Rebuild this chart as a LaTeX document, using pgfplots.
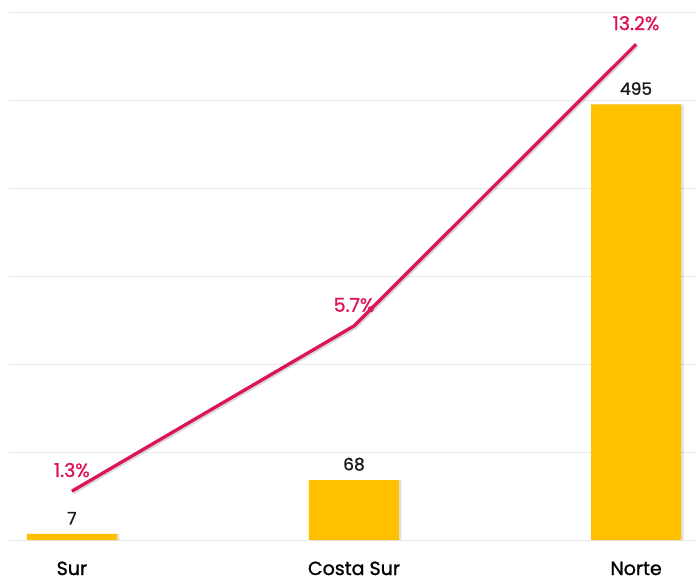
\documentclass[border=0pt]{standalone}
\usepackage{pgfplots}
\pgfplotsset{compat=1.18}
\usepackage{fontspec}
\setmainfont{Poppins}[FakeBold=1.2]
\definecolor{baryel}{RGB}{255,192,0}
\definecolor{linered}{RGB}{220,20,90}
\definecolor{gridc}{RGB}{232,232,236}
\begin{document}
\begin{tikzpicture}
\begin{axis}[
  at={(0,0)}, anchor=south west,
  scale only axis, width=688pt, height=528pt,
  xmin=-0.223, xmax=2.216, ymin=0, ymax=600,
  axis line style={draw=none},
  ymajorgrids, ytick={0,100,...,600}, yticklabels={},
  grid style={gridc, line width=1pt},
  major tick length=0pt,
  xtick={0,1,2}, xticklabels={Sur,Costa Sur,Norte},
  xticklabel style={anchor=base, inner sep=0pt, yshift=-35pt, font=\fontsize{19}{22}\selectfont, text=black},
  /pgf/number format/assume math mode=true,
]
\addplot[ybar, bar width=90pt, fill=black, opacity=0.12, draw=none, xshift=2.5pt, forget plot]
  coordinates {(0,7) (1,68) (2,495)};
\addplot[ybar, bar width=90pt, fill=baryel, draw=none,
  nodes near coords, every node near coord/.append style={font=\fontsize{17}{20}\selectfont, text=black!90, yshift=6pt}]
  coordinates {(0,7) (1,68) (2,495)};
\end{axis}
\begin{axis}[
  at={(0,0)}, anchor=south west,
  scale only axis, width=688pt, height=528pt,
  xmin=-0.223, xmax=2.216, ymin=0, ymax=14.06,
  axis lines=none,
  /pgf/number format/assume math mode=true,
]
\addplot[black, opacity=0.15, line width=3.3pt, xshift=1.5pt, yshift=-1.5pt, forget plot]
  coordinates {(0,1.3) (1,5.7) (2,13.2)};
\addplot[linered, line width=3.3pt,
  nodes near coords={\pgfmathprintnumber[fixed,precision=1,fixed zerofill]{\pgfplotspointmeta}\%},
  point meta=y,
  every node near coord/.append style={font=\fontsize{19}{22}\selectfont, text=linered, yshift=9pt}]
  coordinates {(0,1.3) (1,5.7) (2,13.2)};
\end{axis}
\pgfresetboundingbox
\path (-9pt,-42pt) rectangle (688pt,540pt);
\end{tikzpicture}
\end{document}
